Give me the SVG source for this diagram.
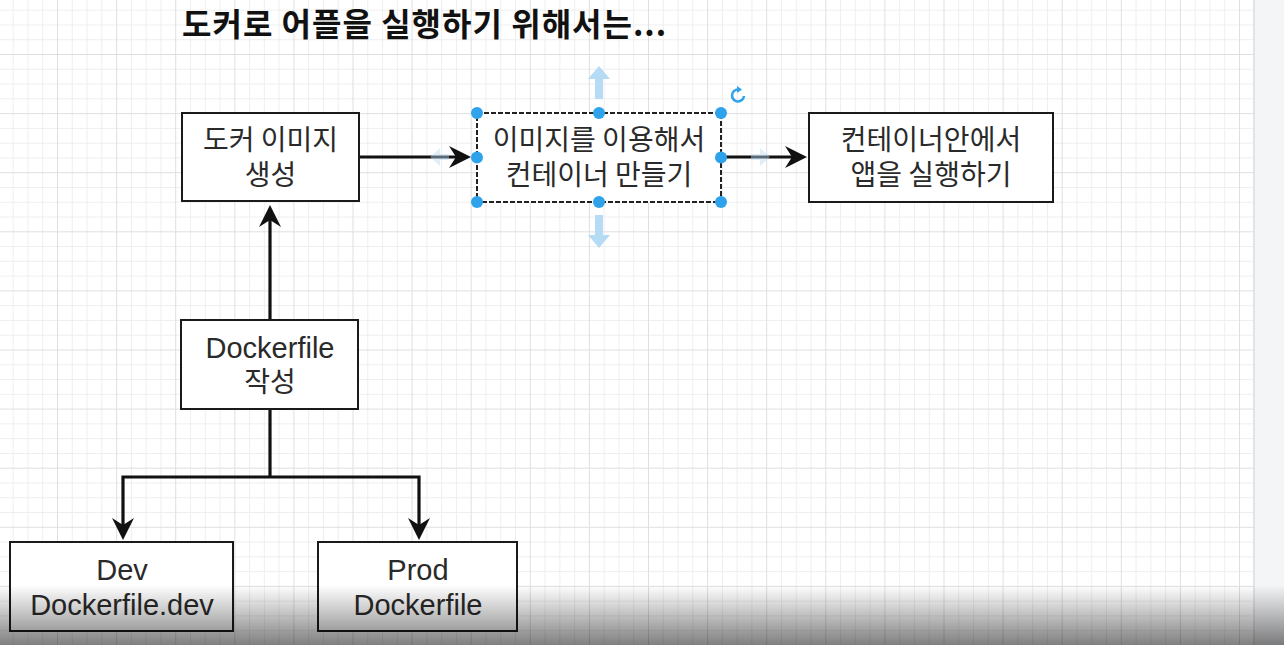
<svg xmlns="http://www.w3.org/2000/svg" width="1284" height="645" viewBox="0 0 1284 645">
<defs>
<pattern id="grid" patternUnits="userSpaceOnUse" x="57" y="54" width="59.1" height="59.1">
<path d="M15.3 0V59.1M30.05 0V59.1M44.8 0V59.1M0 15.3H59.1M0 30.05H59.1M0 44.8H59.1" stroke="#eeeeee" stroke-width="1" fill="none"/>
<path d="M0.5 0V59.1M0 0.5H59.1" stroke="#dfdfdf" stroke-width="1" fill="none"/>
</pattern>
<linearGradient id="shade" x1="0" y1="0" x2="0" y2="1">
<stop offset="0" stop-color="#000" stop-opacity="0"/>
<stop offset="0.35" stop-color="#000" stop-opacity="0.17"/>
<stop offset="1" stop-color="#000" stop-opacity="0.5"/>
</linearGradient>
<marker id="arrow" markerUnits="userSpaceOnUse" viewBox="0 0 22 22" markerWidth="22" markerHeight="22" refX="13" refY="11" orient="auto">
<path d="M0 0L22 11L0 22L7 11Z" fill="#111"/>
</marker>
<style>
.box{fill:#fff;stroke:#1a1a1a;stroke-width:2}
.sel{fill:#fff;stroke:#222;stroke-width:2;stroke-dasharray:5 2}
.conn{fill:none;stroke:#111;stroke-width:3.2;marker-end:url(#arrow)}
.line{fill:none;stroke:#111;stroke-width:3.2}
.lbl{text-anchor:middle;fill:#2a2a2a}
.ko{font-family:"Noto Sans CJK KR","Noto Sans",sans-serif;font-size:28px}
.en{font-family:"Liberation Sans",Arial,sans-serif;font-size:29px}
.title{font-family:"Noto Sans CJK KR","Noto Sans",sans-serif;font-size:32px;font-weight:700;letter-spacing:1px;fill:#111}
.handle{fill:#2ea2ea}
.hint{fill:#b5dbf5}
</style>
</defs>
<rect x="0" y="0" width="1284" height="645" fill="#fff"/>
<rect x="0" y="0" width="1254" height="645" fill="url(#grid)"/>
<rect x="1254" y="0" width="30" height="645" fill="#f4f5f7"/>
<line x1="1254" y1="0" x2="1254" y2="645" stroke="#dcdcdc" stroke-width="1.5"/>

<text class="title" x="182" y="36">도커로 어플을 실행하기 위해서는...</text>

<g id="connectors">
<path class="conn" d="M359 157H462"/>
<path class="conn" d="M721 157H798"/>
<path class="conn" d="M270 320V214"/>
<path class="line" d="M270 409V477"/>
<path class="conn" d="M270 477H123V531"/>
<path class="conn" d="M270 477H419V531"/>
</g>

<g id="node-image">
<rect class="box" x="182" y="113" width="177" height="88"/>
<text class="lbl ko"><tspan x="270.5" y="150">도커 이미지</tspan><tspan x="270.5" y="185">생성</tspan></text>
</g>

<g id="node-container">
<rect class="sel" x="477" y="113" width="244" height="89"/>
<text class="lbl ko"><tspan x="599" y="150">이미지를 이용해서</tspan><tspan x="599" y="185">컨테이너 만들기</tspan></text>
</g>

<g id="node-run">
<rect class="box" x="809" y="113" width="244" height="89"/>
<text class="lbl ko"><tspan x="931" y="150">컨테이너안에서</tspan><tspan x="931" y="185">앱을 실행하기</tspan></text>
</g>

<g id="node-dockerfile">
<rect class="box" x="181" y="320" width="177" height="89"/>
<text class="lbl"><tspan class="en" x="270" y="358">Dockerfile</tspan><tspan class="ko" x="270" y="392">작성</tspan></text>
</g>

<g id="node-dev">
<rect class="box" x="10" y="542" width="223" height="89"/>
<text class="lbl en"><tspan x="122" y="580">Dev</tspan><tspan x="122" y="615">Dockerfile.dev</tspan></text>
</g>

<g id="node-prod">
<rect class="box" x="318" y="542" width="199" height="89"/>
<text class="lbl en"><tspan x="418" y="580">Prod</tspan><tspan x="418" y="615">Dockerfile</tspan></text>
</g>

<g id="selection">
<path class="hint" d="M599 66L610 79H603V99H595V79H588Z"/>
<path class="hint" d="M599 248L610 235H603V215H595V235H588Z"/>
<path class="hint" opacity="0.45" d="M430 157L440 148V154H449V160H440V166Z"/>
<path class="hint" opacity="0.45" d="M770 157L760 148V154H751V160H760V166Z"/>
<circle class="handle" cx="477" cy="113" r="6"/>
<circle class="handle" cx="599" cy="113" r="6"/>
<circle class="handle" cx="721" cy="113" r="6"/>
<circle class="handle" cx="477" cy="157.5" r="6"/>
<circle class="handle" cx="721" cy="157.5" r="6"/>
<circle class="handle" cx="477" cy="202" r="6"/>
<circle class="handle" cx="599" cy="202" r="6"/>
<circle class="handle" cx="721" cy="202" r="6"/>
<path d="M744 96A6 6 0 1 1 738.5 89.5" fill="none" stroke="#2ea2ea" stroke-width="2.5"/>
<path d="M737 86L742 89.5L737 93Z" fill="#2ea2ea"/>
</g>

<rect x="0" y="585" width="1284" height="60" fill="url(#shade)"/>
</svg>
